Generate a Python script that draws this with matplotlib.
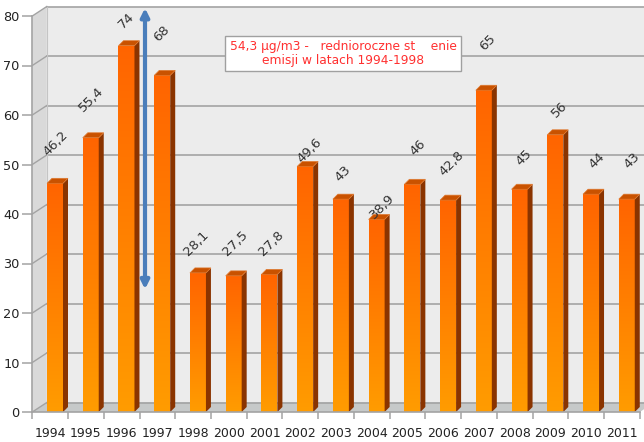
import numpy as np
import matplotlib
matplotlib.use("Agg")
import matplotlib.pyplot as plt
from matplotlib.patches import Polygon
from matplotlib.colors import LinearSegmentedColormap

years = ["1994", "1995", "1996", "1997", "1998", "2000", "2001", "2002", "2003",
         "2004", "2005", "2006", "2007", "2008", "2009", "2010", "2011"]
values = [46.2, 55.4, 74, 68, 28.1, 27.5, 27.8, 49.6, 43, 38.9, 46, 42.8, 65, 45, 56, 44, 43]
yticks = [0, 10, 20, 30, 40, 50, 60, 70, 80]
note = "54,3 µg/m3 -   rednioroczne st    enie\nemisji w latach 1994-1998"
arrow_range = (24.8, 81.6)

# layout: manual label placement (pixels, relative to bar top centre)
label_dx_px = [1, 0.5, 0, -0.5, -1.5, 1.5, 2, 4.5, 2, 5.5, 5, 3.5, 4, 4.5, 4, 5.5, 5]
label_dy_px = [40, 38, 25, 42, 30, 33, 31, 16, 26, 13, 37, 37, 48, 32, 25, 34, 39]

W, H = 644, 442
fig = plt.figure(figsize=(W / 100, H / 100), dpi=100)
fig.patch.set_facecolor("white")

x0px, x1px, y0px, y1px = 32.3, 639.8, 412, 16
ax = fig.add_axes([x0px / W, (H - y0px) / H, (x1px - x0px) / W, (y0px - y1px) / H])
n = len(years)
ax.set_xlim(0, n)
ax.set_ylim(0, 80)
for s in ax.spines.values():
    s.set_visible(False)
ax.set_facecolor("none")

pxx = (x1px - x0px) / n
pxy = (y0px - y1px) / 80.0
wdx, wdy = 14.5 / pxx, 9.5 / pxy       # wall depth
bdx, bdy = 5.0 / pxx, 5.0 / pxy        # bar depth

# walls & floor
ax.add_patch(Polygon([(wdx, wdy), (n + wdx, wdy), (n + wdx, 80 + wdy), (wdx, 80 + wdy)],
                     closed=True, fc="#ececec", ec="none", clip_on=False, zorder=0))
ax.add_patch(Polygon([(0, 0), (wdx, wdy), (wdx, 80 + wdy), (0, 80)],
                     closed=True, fc="#d9d9d9", ec="none", clip_on=False, zorder=0))
ax.add_patch(Polygon([(0, 0), (n, 0), (n + wdx, wdy), (wdx, wdy)],
                     closed=True, fc="#c6c9c9", ec="none", clip_on=False, zorder=0.5))
grid_c = "#a3a3a3"
for v in yticks:
    ax.plot([wdx, n + wdx], [v + wdy, v + wdy], color=grid_c, lw=1.2, clip_on=False, zorder=0.6)
    ax.plot([0, wdx], [v, v + wdy], color=grid_c, lw=1.0, clip_on=False, zorder=0.6)
ax.plot([wdx, wdx], [wdy, 80 + wdy], color="#c4c4c4", lw=0.8, clip_on=False, zorder=0.6)
ax.plot([0, 0], [0, 80], color=grid_c, lw=1.2, clip_on=False, zorder=3)
ax.plot([0, n], [0, 0], color=grid_c, lw=1.2, clip_on=False, zorder=3)

# ticks
ax.set_yticks(yticks)
ax.set_yticklabels([str(v) for v in yticks])
ax.set_xticks(np.arange(n + 1), minor=False)
ax.set_xticklabels([""] * (n + 1))
ax.set_xticks(np.arange(n) + 0.5, minor=True)
ax.set_xticklabels(years, minor=True)
ax.tick_params(axis="y", length=7, width=1.1, color=grid_c, pad=2, labelsize=9.3,
               labelcolor="#222222")
ax.tick_params(axis="x", which="major", length=5, width=1.1, color=grid_c, direction="out")
ax.tick_params(axis="x", which="minor", length=0, pad=11, labelsize=9, labelcolor="#222222")

# bars
bw = 16.0 / pxx
off = 14.7 / pxx
centers = np.arange(n) + off + bw / 2
bars = ax.bar(centers, values, width=bw, color="none", edgecolor="none", zorder=2)
cmap = LinearSegmentedColormap.from_list("og", ["#ff9c00", "#ff6400"])
grad = np.linspace(0, 1, 256).reshape(-1, 1)
for b, v, ldx, ldy in zip(bars, values, label_dx_px, label_dy_px):
    xa = b.get_x()
    xb = xa + b.get_width()
    im = ax.imshow(grad, cmap=cmap, aspect="auto", origin="lower",
                   extent=[xa, xb, 0, v], zorder=2)
    im.set_clip_path(b)
    ax.add_patch(Polygon([(xb, 0), (xb + bdx, bdy), (xb + bdx, v + bdy), (xb, v)],
                         closed=True, fc="#8a3400", ec="none", zorder=2))
    ax.add_patch(Polygon([(xa, v), (xb, v), (xb + bdx, v + bdy), (xa + bdx, v + bdy)],
                         closed=True, fc="#c95200", ec="#e07a30", lw=0.5, zorder=2))
    lab = f"{v:g}".replace(".", ",")
    ax.annotate(lab, (b.get_x() + b.get_width() / 2, v), xytext=(ldx * 0.72, ldy * 0.72),
                textcoords="offset points", rotation=45, ha="center", va="center",
                fontsize=9.5, color="#333333", zorder=4)
ax.set_xlim(0, n)
ax.set_ylim(0, 80)

# arrow
arrow_x = (145 - x0px) / pxx
ax.annotate("", xy=(arrow_x, arrow_range[0]), xytext=(arrow_x, arrow_range[1]),
            arrowprops=dict(arrowstyle="<|-|>", color="#4a7ebb", lw=3,
                            mutation_scale=12, shrinkA=0, shrinkB=0),
            annotation_clip=False, zorder=5)

# note box
fig.text(343 / W, 1 - 53.5 / H, note, ha="center", va="center", fontsize=8.8,
         color="#ff3030", linespacing=1.1,
         bbox=dict(boxstyle="square,pad=0.35", fc="white", ec="#a0a0a0", lw=1))

fig.savefig("out.png", dpi=100)
